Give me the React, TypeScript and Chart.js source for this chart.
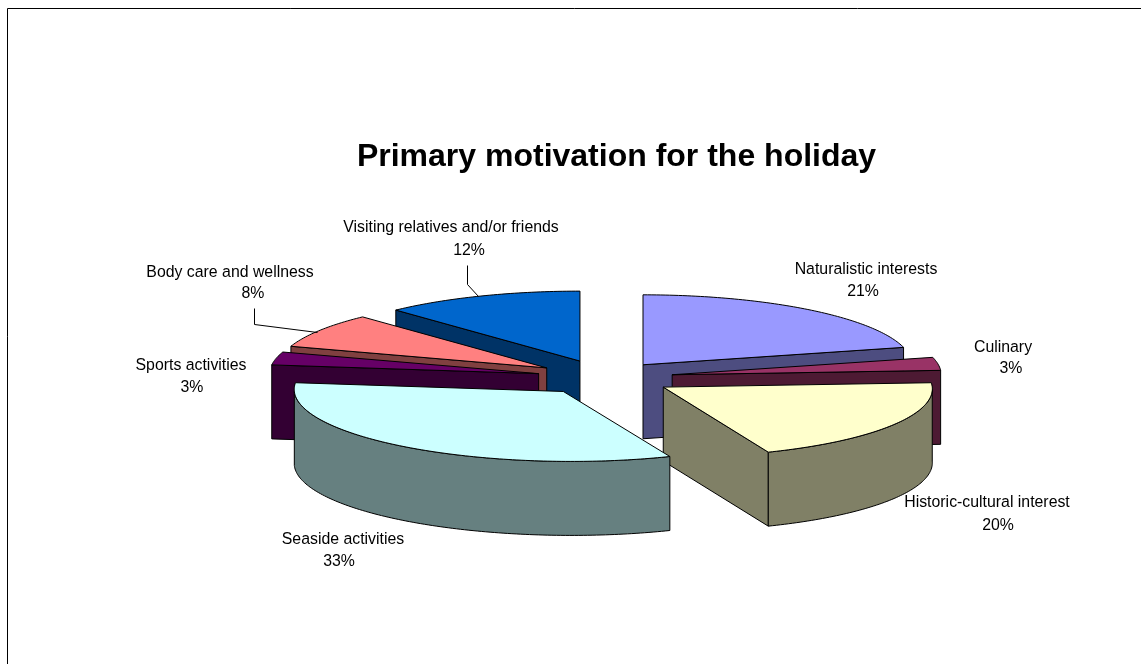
import React, { useEffect, useRef } from "react";
import { Chart, registerables } from "chart.js";

Chart.register(...registerables);

const categories = [
  "Naturalistic interests",
  "Culinary",
  "Historic-cultural interest",
  "Seaside activities",
  "Sports activities",
  "Body care and wellness",
  "Visiting relatives and/or friends",
];
const shares = [21, 3, 20, 33, 3, 8, 12];
const titleText = "Primary motivation for the holiday";

const topColors = ["#9999FF", "#993366", "#FFFFCC", "#CCFFFF", "#660066", "#FF8080", "#0066CC"];
const wallColors = ["#4D4D80", "#4D1A33", "#808066", "#668080", "#330033", "#804040", "#003366"];

// Style of the 3-D look, per slice
const explode = [62, 68, 69, 68, 68, 69, 68];
const sliceSkew = [0, 0, 0.024, 0.03, 0, 0, 0];
const TILT = 0.26;
const DEPTH = 74;
const RADIUS = 269;
const PIE_X = 605;
const PIE_Y = 377.5;

const labelFont = "15.85px 'Liberation Sans', Arial, sans-serif";
const nameAnchors = [[866, 270], [1003, 348], [987, 503], [343, 540], [191, 366], [230, 273], [451, 228]];
const pctAnchors = [[863, 292], [1011, 369], [998, 526], [339, 562], [192, 388], [253, 294], [469, 251]];
const leaders = [
  [[467, 265], [467, 284], [478, 296]],
  [[254, 308], [254, 324], [317, 332]],
];

const pie3d = {
  id: "pie3d",
  beforeDatasetsDraw(chart: any) {
    const ctx: CanvasRenderingContext2D = chart.ctx;
    const arcs: any[] = chart.getDatasetMeta(0).data;

    const geo = arcs.map((el, i) => {
      const { x, y, startAngle, endAngle, outerRadius } = el.getProps(
        ["x", "y", "startAngle", "endAngle", "outerRadius"],
        true
      );
      const mid = (startAngle + endAngle) / 2;
      const ex = PIE_X + Math.cos(mid) * explode[i];
      const ey = PIE_Y + Math.sin(mid) * explode[i] * TILT;
      const sk = sliceSkew[i];
      const at = (a: number, r: number, dz = 0) => {
        const ux = Math.cos(a) * r;
        const uy = Math.sin(a) * r;
        return [ex + ux + uy * sk, ey + uy * TILT + dz];
      };
      return { el, i, x, y, a: startAngle, b: endAngle, r: outerRadius, ex, ey, sk, at };
    });

    const poly = (pts: number[][], fill: string | null) => {
      ctx.beginPath();
      pts.forEach((p, k) => (k ? ctx.lineTo(p[0], p[1]) : ctx.moveTo(p[0], p[1])));
      ctx.closePath();
      if (fill) {
        ctx.fillStyle = fill;
        ctx.fill();
      }
      ctx.strokeStyle = "#000";
      ctx.lineWidth = 1;
      ctx.stroke();
    };

    geo
      .slice()
      .sort((p, q) => p.ey - q.ey)
      .forEach((g) => {
        const wall = wallColors[g.i];
        // radial walls that face the viewer
        const radial = (ang: number) =>
          poly(
            [g.at(ang, 0), g.at(ang, g.r), g.at(ang, g.r, DEPTH), g.at(ang, 0, DEPTH)],
            wall
          );
        if (-Math.cos(g.a) > 1e-6) radial(g.a);
        if (Math.cos(g.b) > 1e-6) radial(g.b);

        // outer wall, only the part turned to the viewer
        const from = Math.max(g.a, 0);
        const to = Math.min(g.b, Math.PI);
        if (to > from) {
          const upper: number[][] = [];
          const lower: number[][] = [];
          const n = Math.ceil((to - from) * 60);
          for (let k = 0; k <= n; k++) {
            const t = from + ((to - from) * k) / n;
            upper.push(g.at(t, g.r));
            lower.unshift(g.at(t, g.r, DEPTH));
          }
          poly([...upper, ...lower], wall);
        }

        // the top face: the library's own arc element under a tilt transform
        ctx.save();
        ctx.transform(1, 0, g.sk, TILT, g.ex, g.ey);
        ctx.translate(-g.x, -g.y);
        g.el.draw(ctx);
        ctx.restore();

        const rim: number[][] = [g.at(g.a, 0)];
        const m = Math.ceil((g.b - g.a) * 60);
        for (let k = 0; k <= m; k++) rim.push(g.at(g.a + ((g.b - g.a) * k) / m, g.r));
        poly(rim, null);
      });

    // data labels
    ctx.save();
    ctx.font = labelFont;
    ctx.fillStyle = "#000";
    ctx.textAlign = "center";
    ctx.textBaseline = "middle";
    categories.forEach((name, i) => {
      ctx.fillText(name, nameAnchors[i][0], nameAnchors[i][1]);
      ctx.fillText(shares[i] + "%", pctAnchors[i][0], pctAnchors[i][1]);
    });
    ctx.strokeStyle = "#000";
    ctx.lineWidth = 1;
    leaders.forEach((line) => {
      ctx.beginPath();
      line.forEach((p, k) => (k ? ctx.lineTo(p[0] + 0.5, p[1] + 0.5) : ctx.moveTo(p[0] + 0.5, p[1] + 0.5)));
      ctx.stroke();
    });
    // frame: top and left rules only
    ctx.beginPath();
    ctx.moveTo(7.5, 664);
    ctx.lineTo(7.5, 8.5);
    ctx.lineTo(1141, 8.5);
    ctx.stroke();
    ctx.restore();
    return false;
  },
};

export default function App() {
  const ref = useRef<HTMLCanvasElement>(null);
  useEffect(() => {
    const chart = new Chart(ref.current as HTMLCanvasElement, {
      type: "pie",
      data: {
        labels: categories,
        datasets: [{ data: shares, backgroundColor: topColors, borderWidth: 0 }],
      },
      options: {
        animation: false,
        responsive: false,
        radius: RADIUS,
        layout: { padding: { left: 92 } },
        plugins: {
          legend: { display: false },
          tooltip: { enabled: false },
          title: {
            display: true,
            text: titleText,
            color: "#000",
            font: { family: "'Liberation Sans', Arial, sans-serif", size: 32, weight: "bold" },
            padding: { top: 138, bottom: 0 },
          },
        },
      },
      plugins: [pie3d],
    } as any);
    return () => chart.destroy();
  }, []);
  return (
    <div style={{ position: "fixed", left: 0, top: 0, width: 1141, height: 664, background: "#fff" }}>
      <canvas ref={ref} width={1141} height={664} style={{ display: "block" }} />
    </div>
  );
}
